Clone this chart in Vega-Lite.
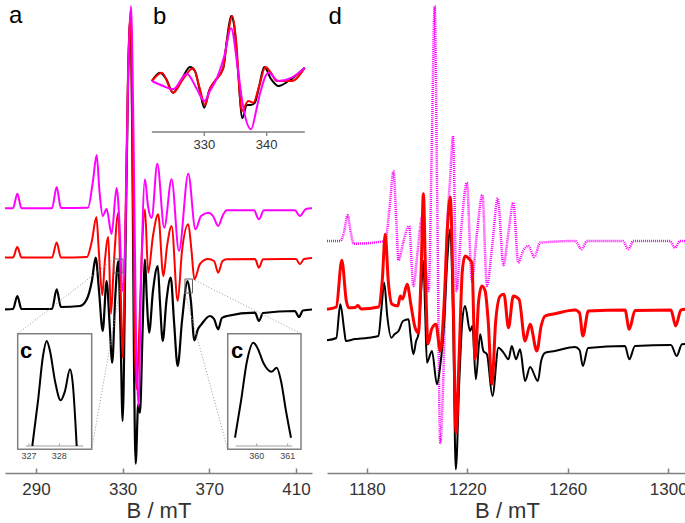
{
"$schema": "https://vega.github.io/schema/vega-lite/v6.json",
"padding": {"left": 0, "top": 0, "right": 3, "bottom": 0},
"background": "white",
"spacing": 15,
"bounds": "flush",
"config": {"view": {"stroke": null}, "font": "Liberation Sans", "axis": {"labelFont": "Liberation Sans", "titleFont": "Liberation Sans"}, "text": {"font": "Liberation Sans"}},
"datasets": {
"a_exp": [{"B":275.7,"I":163.7},{"B":279.4,"I":164},{"B":281.4,"I":177},{"B":283.3,"I":164},{"B":297.4,"I":164},{"B":299.55,"I":183.7},{"B":301.5,"I":166},{"B":310.3,"I":167},{"B":313.5,"I":174},{"B":315.8,"I":192},{"B":317.55,"I":215.3},{"B":319.1,"I":182},{"B":320.8,"I":142},{"B":322.6,"I":192},{"B":323.9,"I":152},{"B":325.2,"I":110.3},{"B":326.5,"I":172},{"B":328.0,"I":212},{"B":329.0,"I":142},{"B":330.0,"I":52},{"B":331.3,"I":222},{"B":332.5,"I":392},{"B":333.6,"I":455},{"B":334.5,"I":322},{"B":335.2,"I":122},{"B":336.0,"I":9.3},{"B":337.2,"I":69},{"B":338.0,"I":60.3},{"B":339.2,"I":142},{"B":340.3,"I":213.7},{"B":341.2,"I":172},{"B":342.2,"I":140.3},{"B":344.0,"I":182},{"B":346.2,"I":207},{"B":347.2,"I":172},{"B":348.5,"I":132},{"B":350.2,"I":172},{"B":352.2,"I":195.3},{"B":353.7,"I":152},{"B":355.4,"I":107},{"B":357.4,"I":152},{"B":360.0,"I":192},{"B":361.5,"I":172},{"B":363.1,"I":132.7},{"B":364.8,"I":144},{"B":366.5,"I":149},{"B":370.3,"I":157},{"B":372.2,"I":154},{"B":374.1,"I":143.7},{"B":375.8,"I":155},{"B":378.2,"I":157},{"B":391.1,"I":160.3},{"B":392.9,"I":152},{"B":394.8,"I":160},{"B":409.5,"I":162},{"B":411.4,"I":156},{"B":413.2,"I":162.5},{"B":417.4,"I":163.5}],
"a_sim1": [{"B":275.7,"I":215.5},{"B":279.4,"I":215.5},{"B":281.4,"I":226},{"B":283.3,"I":215.5},{"B":297.4,"I":215.5},{"B":299.55,"I":230.5},{"B":301.5,"I":215.5},{"B":313.5,"I":216},{"B":315.8,"I":232},{"B":317.9,"I":256},{"B":319.0,"I":222},{"B":320.6,"I":178},{"B":321.8,"I":212},{"B":323.4,"I":236},{"B":324.6,"I":159},{"B":326.0,"I":212},{"B":328.0,"I":260.3},{"B":329.0,"I":192},{"B":330.0,"I":115},{"B":331.3,"I":252},{"B":332.5,"I":402},{"B":333.6,"I":462},{"B":334.5,"I":332},{"B":335.4,"I":152},{"B":336.4,"I":84},{"B":337.5,"I":132},{"B":338.9,"I":222},{"B":340.3,"I":263.7},{"B":341.8,"I":200.3},{"B":344.0,"I":237},{"B":346.4,"I":258.7},{"B":348.8,"I":197},{"B":350.5,"I":227},{"B":352.6,"I":247},{"B":355.4,"I":172},{"B":357.4,"I":222},{"B":360.3,"I":248.7},{"B":361.8,"I":222},{"B":363.1,"I":193.7},{"B":365.7,"I":209},{"B":369.4,"I":214},{"B":372.2,"I":212},{"B":374.1,"I":200.3},{"B":376.1,"I":212},{"B":378.0,"I":213.7},{"B":391.1,"I":214},{"B":392.9,"I":205.3},{"B":394.8,"I":213.7},{"B":410.0,"I":214},{"B":411.8,"I":208.7},{"B":413.7,"I":214},{"B":417.4,"I":215}],
"a_sim2": [{"B":275.7,"I":264.7},{"B":279.4,"I":264.7},{"B":281.4,"I":279.3},{"B":283.3,"I":264.7},{"B":297.4,"I":264.7},{"B":299.55,"I":286},{"B":301.5,"I":265},{"B":314.0,"I":265.3},{"B":316.3,"I":292},{"B":318.0,"I":318},{"B":319.3,"I":282},{"B":320.8,"I":257},{"B":322.6,"I":264},{"B":324.9,"I":239},{"B":327.2,"I":285},{"B":328.5,"I":252},{"B":329.9,"I":182},{"B":331.3,"I":242},{"B":332.5,"I":392},{"B":333.85,"I":467},{"B":335.0,"I":342},{"B":336.15,"I":142},{"B":337.3,"I":67},{"B":338.5,"I":192},{"B":340.3,"I":293.7},{"B":341.7,"I":267},{"B":343.4,"I":255},{"B":346.0,"I":309.3},{"B":349.2,"I":245.3},{"B":352.6,"I":293.7},{"B":356.0,"I":222},{"B":360.3,"I":299.3},{"B":363.6,"I":243.7},{"B":366.2,"I":257},{"B":369.5,"I":260.3},{"B":371.7,"I":257},{"B":374.1,"I":247},{"B":376.3,"I":258},{"B":378.0,"I":262.7},{"B":390.6,"I":262.7},{"B":392.9,"I":253.7},{"B":395.2,"I":262.7},{"B":409.5,"I":262.7},{"B":411.8,"I":257},{"B":414.6,"I":264},{"B":417.4,"I":264.7}],
"a_boxes": [{"B":326.0,"B2":330.15,"I":200,"I2":214},{"B":358.77,"B2":362.23,"I":180,"I2":194}],
"a_conn": [{"B":326.0,"I":214,"B2":281.55,"I2":139.3},{"B":330.15,"I":200,"B2":315.7,"I2":23.7},{"B":362.23,"I":194,"B2":412.31,"I2":139.3},{"B":358.77,"I":180,"B2":378.48,"I2":23.7}],
"a_text": [{"B":277.5,"I":450,"t":"a"},{"B":344.0,"I":448.7,"t":"b"}],
"b_exp": [{"B":321.6,"I":51},{"B":322.9,"I":59.3},{"B":323.9,"I":53},{"B":325.0,"I":39.3},{"B":326.4,"I":53},{"B":327.7,"I":65},{"B":328.5,"I":61},{"B":329.3,"I":41},{"B":330.0,"I":24.3},{"B":330.75,"I":41},{"B":331.7,"I":51},{"B":333.05,"I":64.3},{"B":333.6,"I":91},{"B":334.3,"I":116},{"B":334.8,"I":106},{"B":335.4,"I":61},{"B":336.1,"I":13.7},{"B":336.8,"I":27},{"B":337.5,"I":27},{"B":338.1,"I":29.3},{"B":338.8,"I":46},{"B":339.6,"I":65},{"B":340.7,"I":53},{"B":341.9,"I":46},{"B":343.5,"I":51},{"B":346.1,"I":64.3}],
"b_sim1": [{"B":321.6,"I":51},{"B":323.2,"I":59.3},{"B":325.0,"I":39.3},{"B":326.6,"I":53},{"B":328.2,"I":63.7},{"B":329.3,"I":43},{"B":330.1,"I":27},{"B":330.9,"I":43},{"B":331.7,"I":51},{"B":333.0,"I":63},{"B":333.6,"I":89},{"B":334.5,"I":116},{"B":335.1,"I":91},{"B":336.0,"I":21},{"B":337.05,"I":31},{"B":337.85,"I":29.3},{"B":338.8,"I":46},{"B":339.8,"I":65},{"B":340.7,"I":59},{"B":341.6,"I":51},{"B":344.0,"I":51},{"B":346.1,"I":64.3}],
"b_sim2": [{"B":321.6,"I":51},{"B":323.4,"I":46},{"B":325.0,"I":42.7},{"B":327.2,"I":58.3},{"B":328.8,"I":43},{"B":330.0,"I":31},{"B":330.9,"I":41},{"B":332.0,"I":53.7},{"B":333.2,"I":76},{"B":334.3,"I":103.7},{"B":335.35,"I":64.3},{"B":336.2,"I":26},{"B":337.5,"I":2.7},{"B":338.3,"I":21},{"B":338.9,"I":37.7},{"B":340.3,"I":59.3},{"B":341.9,"I":51},{"B":344.0,"I":54.3},{"B":346.1,"I":64.3}],
"b_rules": [{"B":321.6,"B2":346.1,"I":0,"I2":0},{"B":330,"B2":330,"I":0,"I2":-4},{"B":340,"B2":340,"I":0,"I2":-4}],
"b_text": [{"B":330,"I":-13,"t":"330"},{"B":340,"I":-13,"t":"340"}],
"c1_curve": [{"B":327.109,"I":0},{"B":327.297,"I":45},{"B":327.462,"I":90},{"B":327.584,"I":105},{"B":327.693,"I":95},{"B":327.858,"I":65},{"B":328.046,"I":45.7},{"B":328.188,"I":55},{"B":328.353,"I":76.7},{"B":328.436,"I":65},{"B":328.574,"I":0}],
"c1_box": [{"B":326.627,"B2":329.069,"I":-3.3,"I2":112.3}],
"c1_rules": [{"B":326.891,"B2":328.792,"I":0,"I2":0},{"B":327,"B2":327,"I":0,"I2":2.5},{"B":328,"B2":328,"I":0,"I2":2.5}],
"c1_text": [{"B":327,"I":-10.3,"t":"327"},{"B":328,"I":-10.3,"t":"328"}],
"c1_label": [{"B":326.703,"I":88,"t":"c"}],
"c2_curve": [{"B":359.3,"I":8.3},{"B":359.494,"I":45},{"B":359.687,"I":85},{"B":359.89,"I":103.3},{"B":360.04,"I":97},{"B":360.213,"I":83.3},{"B":360.484,"I":74.3},{"B":360.645,"I":78.3},{"B":360.784,"I":65},{"B":360.945,"I":35},{"B":361.106,"I":8.3}],
"c2_box": [{"B":359.065,"B2":361.429,"I":-3.3,"I2":112.3}],
"c2_rules": [{"B":359.323,"B2":361.148,"I":0,"I2":0},{"B":360,"B2":360,"I":0,"I2":2.5},{"B":361,"B2":361,"I":0,"I2":2.5}],
"c2_text": [{"B":360,"I":-10.3,"t":"360"},{"B":361,"I":-10.3,"t":"361"}],
"c2_label": [{"B":359.171,"I":88,"t":"c"}],
"d_sim2": [{"B":1164.1,"I":232},{"B":1169.4,"I":232},{"B":1170.8,"I":240},{"B":1172.3,"I":257.7},{"B":1173.6,"I":240},{"B":1174.7,"I":229.3},{"B":1187.3,"I":232},{"B":1188.9,"I":262},{"B":1190.6,"I":302},{"B":1191.7,"I":252},{"B":1192.6,"I":212.7},{"B":1194.4,"I":230},{"B":1196.8,"I":247},{"B":1198.5,"I":187},{"B":1200.2,"I":222},{"B":1201.9,"I":255.3},{"B":1203.6,"I":202},{"B":1204.6,"I":182},{"B":1205.8,"I":322},{"B":1207.0,"I":467},{"B":1208.0,"I":272},{"B":1209.2,"I":30.3},{"B":1210.4,"I":92},{"B":1211.6,"I":222},{"B":1213.2,"I":297},{"B":1214.3,"I":337},{"B":1215.7,"I":182},{"B":1217.5,"I":242},{"B":1219.8,"I":290.3},{"B":1221.8,"I":192},{"B":1223.7,"I":237},{"B":1226.0,"I":278},{"B":1227.8,"I":187},{"B":1229.9,"I":227},{"B":1232.1,"I":274.7},{"B":1234.4,"I":208},{"B":1236.2,"I":237},{"B":1238.3,"I":270.3},{"B":1240.3,"I":210.3},{"B":1242.2,"I":222},{"B":1244.3,"I":227},{"B":1246.7,"I":216},{"B":1249.0,"I":230.3},{"B":1262.9,"I":232},{"B":1265.6,"I":223.7},{"B":1267.6,"I":232},{"B":1282.0,"I":232},{"B":1284.1,"I":223.7},{"B":1286.1,"I":232},{"B":1300.7,"I":232},{"B":1302.7,"I":225.3},{"B":1304.7,"I":232},{"B":1308.3,"I":232}],
"d_exp": [{"B":1164.1,"I":132.7},{"B":1167.8,"I":135},{"B":1169.4,"I":168.7},{"B":1171.0,"I":142},{"B":1171.6,"I":132},{"B":1175.3,"I":134},{"B":1177.7,"I":134.5},{"B":1180.6,"I":135.3},{"B":1184.6,"I":137},{"B":1185.7,"I":162},{"B":1186.9,"I":190.3},{"B":1188.1,"I":157},{"B":1189.7,"I":135.3},{"B":1191.0,"I":138.7},{"B":1192.6,"I":142},{"B":1194.4,"I":152},{"B":1196.6,"I":153.7},{"B":1197.4,"I":137},{"B":1198.5,"I":118.7},{"B":1199.6,"I":132},{"B":1200.5,"I":138.7},{"B":1201.6,"I":182},{"B":1202.5,"I":212},{"B":1203.2,"I":162},{"B":1203.9,"I":110.3},{"B":1205.9,"I":122},{"B":1207.9,"I":88.7},{"B":1209.2,"I":107},{"B":1210.8,"I":152},{"B":1212.0,"I":212},{"B":1213.2,"I":243.7},{"B":1214.4,"I":142},{"B":1215.4,"I":3.7},{"B":1216.8,"I":92},{"B":1218.0,"I":152},{"B":1219.1,"I":167},{"B":1221.1,"I":142},{"B":1222.0,"I":147},{"B":1223.4,"I":93.7},{"B":1225.1,"I":138.7},{"B":1226.4,"I":122},{"B":1227.8,"I":118.7},{"B":1230.0,"I":77},{"B":1232.4,"I":125.3},{"B":1234.4,"I":120.3},{"B":1236.4,"I":113.7},{"B":1237.7,"I":127},{"B":1239.4,"I":113.7},{"B":1241.0,"I":123.7},{"B":1243.0,"I":92},{"B":1245.0,"I":106},{"B":1248.1,"I":92},{"B":1249.4,"I":112},{"B":1251.0,"I":120.3},{"B":1254.9,"I":122},{"B":1262.9,"I":126},{"B":1264.7,"I":123},{"B":1266.0,"I":107},{"B":1268.1,"I":125},{"B":1282.8,"I":127},{"B":1284.5,"I":113.7},{"B":1286.8,"I":127},{"B":1301.1,"I":128},{"B":1303.4,"I":117},{"B":1305.5,"I":128.7},{"B":1308.3,"I":129}],
"d_sim1": [{"B":1164.1,"I":163.7},{"B":1167.8,"I":166},{"B":1170.0,"I":212.7},{"B":1171.8,"I":172},{"B":1172.7,"I":165.3},{"B":1175.3,"I":165.5},{"B":1176.4,"I":167.5},{"B":1177.7,"I":164},{"B":1184.6,"I":166},{"B":1186.1,"I":192},{"B":1187.3,"I":238.7},{"B":1188.5,"I":192},{"B":1190.0,"I":168.7},{"B":1192.3,"I":167},{"B":1193.3,"I":177},{"B":1194.2,"I":174},{"B":1196.0,"I":188.7},{"B":1197.6,"I":167},{"B":1199.2,"I":145.3},{"B":1200.5,"I":140.3},{"B":1201.6,"I":202},{"B":1202.5,"I":279.3},{"B":1203.4,"I":192},{"B":1204.3,"I":129},{"B":1205.8,"I":144},{"B":1207.5,"I":148.7},{"B":1209.2,"I":122},{"B":1210.8,"I":172},{"B":1212.0,"I":242},{"B":1213.2,"I":276},{"B":1214.4,"I":172},{"B":1215.5,"I":40.3},{"B":1216.8,"I":122},{"B":1218.0,"I":202},{"B":1219.1,"I":217},{"B":1220.7,"I":214},{"B":1221.8,"I":210.3},{"B":1223.1,"I":113.7},{"B":1224.5,"I":172},{"B":1225.8,"I":187},{"B":1227.1,"I":182},{"B":1228.3,"I":152},{"B":1229.8,"I":88.7},{"B":1231.3,"I":152},{"B":1233.1,"I":177},{"B":1234.6,"I":178.7},{"B":1236.4,"I":145.3},{"B":1238.3,"I":177},{"B":1240.6,"I":173.7},{"B":1243.0,"I":132},{"B":1245.0,"I":148.7},{"B":1247.7,"I":122},{"B":1249.4,"I":147},{"B":1251.0,"I":157},{"B":1254.9,"I":159.3},{"B":1262.9,"I":163},{"B":1264.7,"I":160},{"B":1266.0,"I":137},{"B":1268.2,"I":162},{"B":1282.8,"I":163},{"B":1284.5,"I":143.7},{"B":1286.8,"I":162.5},{"B":1301.1,"I":163},{"B":1303.0,"I":147},{"B":1305.1,"I":163},{"B":1308.3,"I":164}],
"d_text": [{"B":1164.7,"I":449,"t":"d"}]
},
"hconcat": [
{
"width": 307, "height": 472,
"layer": [
 {
  "encoding": {
   "x": {"field":"B","type":"quantitative","scale":{"domain":[275.7,417.4],"nice":false,"zero":false},
         "axis":{"orient":"bottom","values":[290,330,370,410],"format":"d","title":"B / mT","grid":false,"domainColor":"#808080","domainWidth":1.5,"tickColor":"#808080","tickWidth":1.5,"tickSize":-5,"labelFontSize":17,"labelColor":"#333333","labelPadding":13,"titleFontSize":22,"titleFontWeight":"normal","titleColor":"#333333","titlePadding":3}},
   "y": {"field":"I","type":"quantitative","scale":{"domain":[0,472],"nice":false,"zero":false},"axis":null}
  },
  "layer": [
   {"data":{"name":"a_exp"},"mark":{"type":"line","color":"#000000","strokeWidth":2.2,"interpolate":"monotone"}},
   {"data":{"name":"a_sim1"},"mark":{"type":"line","color":"#ff0000","strokeWidth":2,"interpolate":"monotone"}},
   {"data":{"name":"a_sim2"},"mark":{"type":"line","color":"#ff00ff","strokeWidth":2,"interpolate":"monotone"}},
   {"data":{"name":"a_boxes"},"mark":{"type":"rect","fillOpacity":0,"stroke":"#606060","strokeWidth":1},"encoding":{"x2":{"field":"B2"},"y2":{"field":"I2"}}},
   {"data":{"name":"a_conn"},"mark":{"type":"rule","color":"#999999","strokeWidth":1,"strokeDash":[1,2]},"encoding":{"x2":{"field":"B2"},"y2":{"field":"I2"}}},
   {"data":{"name":"a_text"},"mark":{"type":"text","fontSize":24,"align":"left","baseline":"alphabetic","color":"#000000"},"encoding":{"text":{"field":"t"}}}
  ]
 },
 {
  "encoding": {
   "x": {"field":"B","type":"quantitative","scale":{"domain":[298.06,347.26],"nice":false,"zero":false},"axis":null},
   "y": {"field":"I","type":"quantitative","scale":{"domain":[-341,131],"nice":false,"zero":false},"axis":null}
  },
  "layer": [
   {"data":{"name":"b_rules"},"mark":{"type":"rule","color":"#808080","strokeWidth":1.3},"encoding":{"x2":{"field":"B2"},"y2":{"field":"I2"}}},
   {"data":{"name":"b_text"},"mark":{"type":"text","fontSize":13,"align":"center","baseline":"middle","color":"#333333"},"encoding":{"text":{"field":"t"}}},
   {"data":{"name":"b_exp"},"mark":{"type":"line","color":"#000000","strokeWidth":2,"interpolate":"monotone"}},
   {"data":{"name":"b_sim1"},"mark":{"type":"line","color":"#ff0000","strokeWidth":2,"interpolate":"monotone"}},
   {"data":{"name":"b_sim2"},"mark":{"type":"line","color":"#ff00ff","strokeWidth":2,"interpolate":"monotone"}}
  ]
 },
 {
  "encoding": {
   "x": {"field":"B","type":"quantitative","scale":{"domain":[326.208,336.34],"nice":false,"zero":false},"axis":null},
   "y": {"field":"I","type":"quantitative","scale":{"domain":[-27,445],"nice":false,"zero":false},"axis":null}
  },
  "layer": [
   {"data":{"name":"c1_box"},"mark":{"type":"rect","fill":"#ffffff","stroke":"#808080","strokeWidth":1.5},"encoding":{"x2":{"field":"B2"},"y2":{"field":"I2"}}},
   {"data":{"name":"c1_rules"},"mark":{"type":"rule","color":"#a0a0a0","strokeWidth":1},"encoding":{"x2":{"field":"B2"},"y2":{"field":"I2"}}},
   {"data":{"name":"c1_text"},"mark":{"type":"text","fontSize":9,"align":"center","baseline":"middle","color":"#444444"},"encoding":{"text":{"field":"t"}}},
   {"data":{"name":"c1_label"},"mark":{"type":"text","fontSize":22,"fontWeight":"bold","align":"left","baseline":"alphabetic","color":"#000000"},"encoding":{"text":{"field":"t"}}},
   {"data":{"name":"c1_curve"},"mark":{"type":"line","color":"#000000","strokeWidth":2,"interpolate":"monotone"}}
  ]
 },
 {
  "encoding": {
   "x": {"field":"B","type":"quantitative","scale":{"domain":[351.88,361.784],"nice":false,"zero":false},"axis":null},
   "y": {"field":"I","type":"quantitative","scale":{"domain":[-27,445],"nice":false,"zero":false},"axis":null}
  },
  "layer": [
   {"data":{"name":"c2_box"},"mark":{"type":"rect","fill":"#ffffff","stroke":"#808080","strokeWidth":1.5},"encoding":{"x2":{"field":"B2"},"y2":{"field":"I2"}}},
   {"data":{"name":"c2_rules"},"mark":{"type":"rule","color":"#a0a0a0","strokeWidth":1},"encoding":{"x2":{"field":"B2"},"y2":{"field":"I2"}}},
   {"data":{"name":"c2_text"},"mark":{"type":"text","fontSize":9,"align":"center","baseline":"middle","color":"#444444"},"encoding":{"text":{"field":"t"}}},
   {"data":{"name":"c2_label"},"mark":{"type":"text","fontSize":22,"fontWeight":"bold","align":"left","baseline":"alphabetic","color":"#000000"},"encoding":{"text":{"field":"t"}}},
   {"data":{"name":"c2_curve"},"mark":{"type":"line","color":"#000000","strokeWidth":2,"interpolate":"monotone"}}
  ]
 }
],
"resolve": {"scale": {"x":"independent","y":"independent"}}
},
{
"width": 360, "height": 472,
"encoding": {
 "x": {"field":"B","type":"quantitative","scale":{"domain":[1164.1,1307.5],"nice":false,"zero":false},
       "axis":{"orient":"bottom","values":[1180,1220,1260,1300],"format":"d","title":"B / mT","grid":false,"domainColor":"#808080","domainWidth":1.5,"tickColor":"#808080","tickWidth":1.5,"tickSize":-5,"labelFontSize":17,"labelColor":"#333333","labelPadding":13,"titleFontSize":22,"titleFontWeight":"normal","titleColor":"#333333","titlePadding":3}},
 "y": {"field":"I","type":"quantitative","scale":{"domain":[0,472],"nice":false,"zero":false},"axis":null}
},
"layer": [
 {"data":{"name":"d_sim2"},"mark":{"type":"line","color":"#ff00ff","strokeWidth":2.5,"strokeDash":[1,1],"interpolate":"monotone"}},
 {"data":{"name":"d_exp"},"mark":{"type":"line","color":"#000000","strokeWidth":2,"interpolate":"monotone"}},
 {"data":{"name":"d_sim1"},"mark":{"type":"line","color":"#ff0000","strokeWidth":3,"interpolate":"monotone"}},
 {"data":{"name":"d_text"},"mark":{"type":"text","fontSize":24,"align":"left","baseline":"alphabetic","color":"#000000"},"encoding":{"text":{"field":"t"}}}
]
}
]
}
